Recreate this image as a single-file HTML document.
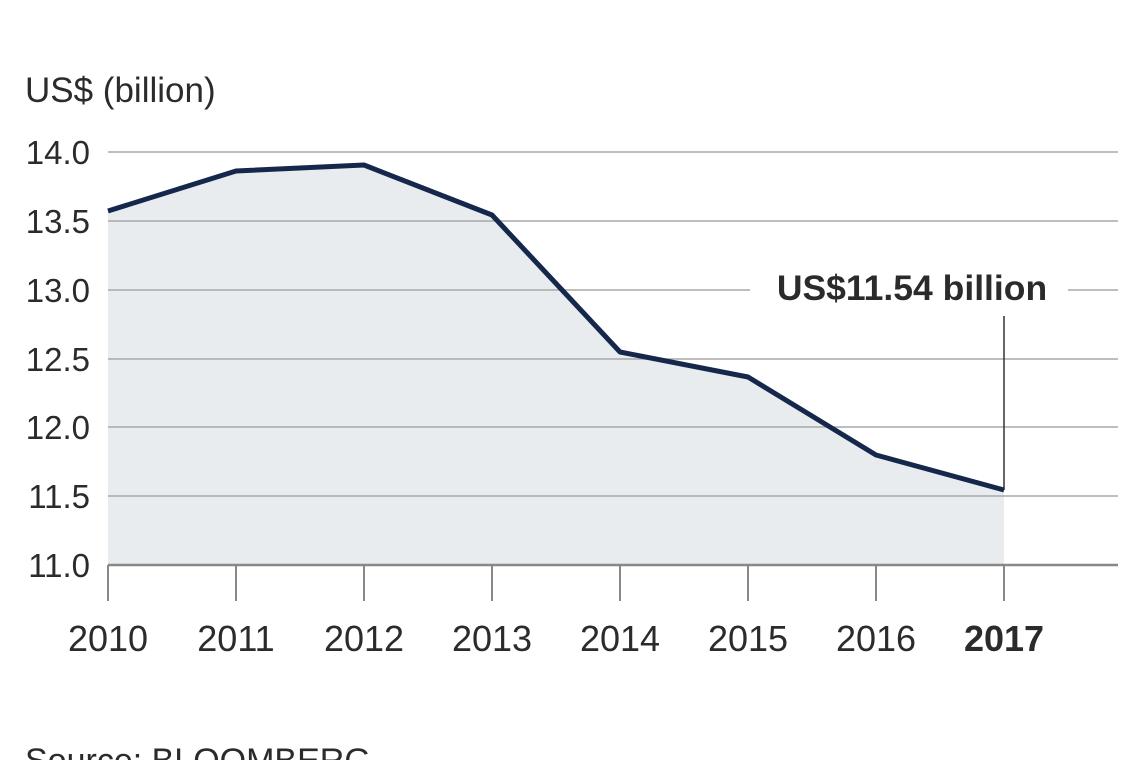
<!DOCTYPE html>
<html><head><meta charset="utf-8"><style>
html,body{margin:0;padding:0;background:#fff;}
svg{display:block;}
text{font-family:"Liberation Sans",sans-serif;fill:#2b2b2b;}
</style></head><body>
<svg width="1140" height="760" viewBox="0 0 1140 760" xmlns="http://www.w3.org/2000/svg">
<rect width="1140" height="760" fill="#fff"/>
<text x="25" y="102" font-size="35">US$ (billion)</text>
<polygon points="108,211 236,171 364,165 492,215 620,352 748,377 876,455 1004,490 1004,565 108,565" fill="#e8ecee"/>
<g stroke="#a8a8a8" stroke-width="1.5">
<line x1="108" y1="152" x2="1118" y2="152"/>
<line x1="108" y1="221" x2="1118" y2="221"/>
<line x1="108" y1="290" x2="750" y2="290"/>
<line x1="1068" y1="290" x2="1118" y2="290"/>
<line x1="108" y1="359" x2="1118" y2="359"/>
<line x1="108" y1="427" x2="1118" y2="427"/>
<line x1="108" y1="496" x2="1118" y2="496"/>
</g>
<line x1="108" y1="565" x2="1118" y2="565" stroke="#888" stroke-width="2.5"/>
<g stroke="#888" stroke-width="2">
<line x1="108" y1="565" x2="108" y2="601"/><line x1="236" y1="565" x2="236" y2="601"/>
<line x1="364" y1="565" x2="364" y2="601"/><line x1="492" y1="565" x2="492" y2="601"/>
<line x1="620" y1="565" x2="620" y2="601"/><line x1="748" y1="565" x2="748" y2="601"/>
<line x1="876" y1="565" x2="876" y2="601"/><line x1="1004" y1="565" x2="1004" y2="601"/>
</g>
<g font-size="33" text-anchor="end">
<text x="90" y="164">14.0</text><text x="90" y="233">13.5</text><text x="90" y="302">13.0</text>
<text x="90" y="371">12.5</text><text x="90" y="439">12.0</text><text x="90" y="508">11.5</text>
<text x="90" y="577">11.0</text>
</g>
<g font-size="36" text-anchor="middle">
<text x="108" y="651">2010</text><text x="236" y="651">2011</text><text x="364" y="651">2012</text>
<text x="492" y="651">2013</text><text x="620" y="651">2014</text><text x="748" y="651">2015</text>
<text x="876" y="651">2016</text><text x="1004" y="651" font-weight="bold">2017</text>
</g>
<line x1="1004" y1="316" x2="1004" y2="490" stroke="#333" stroke-width="1.5"/>
<polyline points="108,211 236,171 364,165 492,215 620,352 748,377 876,455 1004,490" fill="none" stroke="#15284b" stroke-width="5" stroke-linejoin="round"/>
<text x="912" y="300" font-size="35.5" font-weight="bold" text-anchor="middle">US$11.54 billion</text>
<text x="25" y="772" font-size="34">Source: BLOOMBERG</text>
</svg>
</body></html>
